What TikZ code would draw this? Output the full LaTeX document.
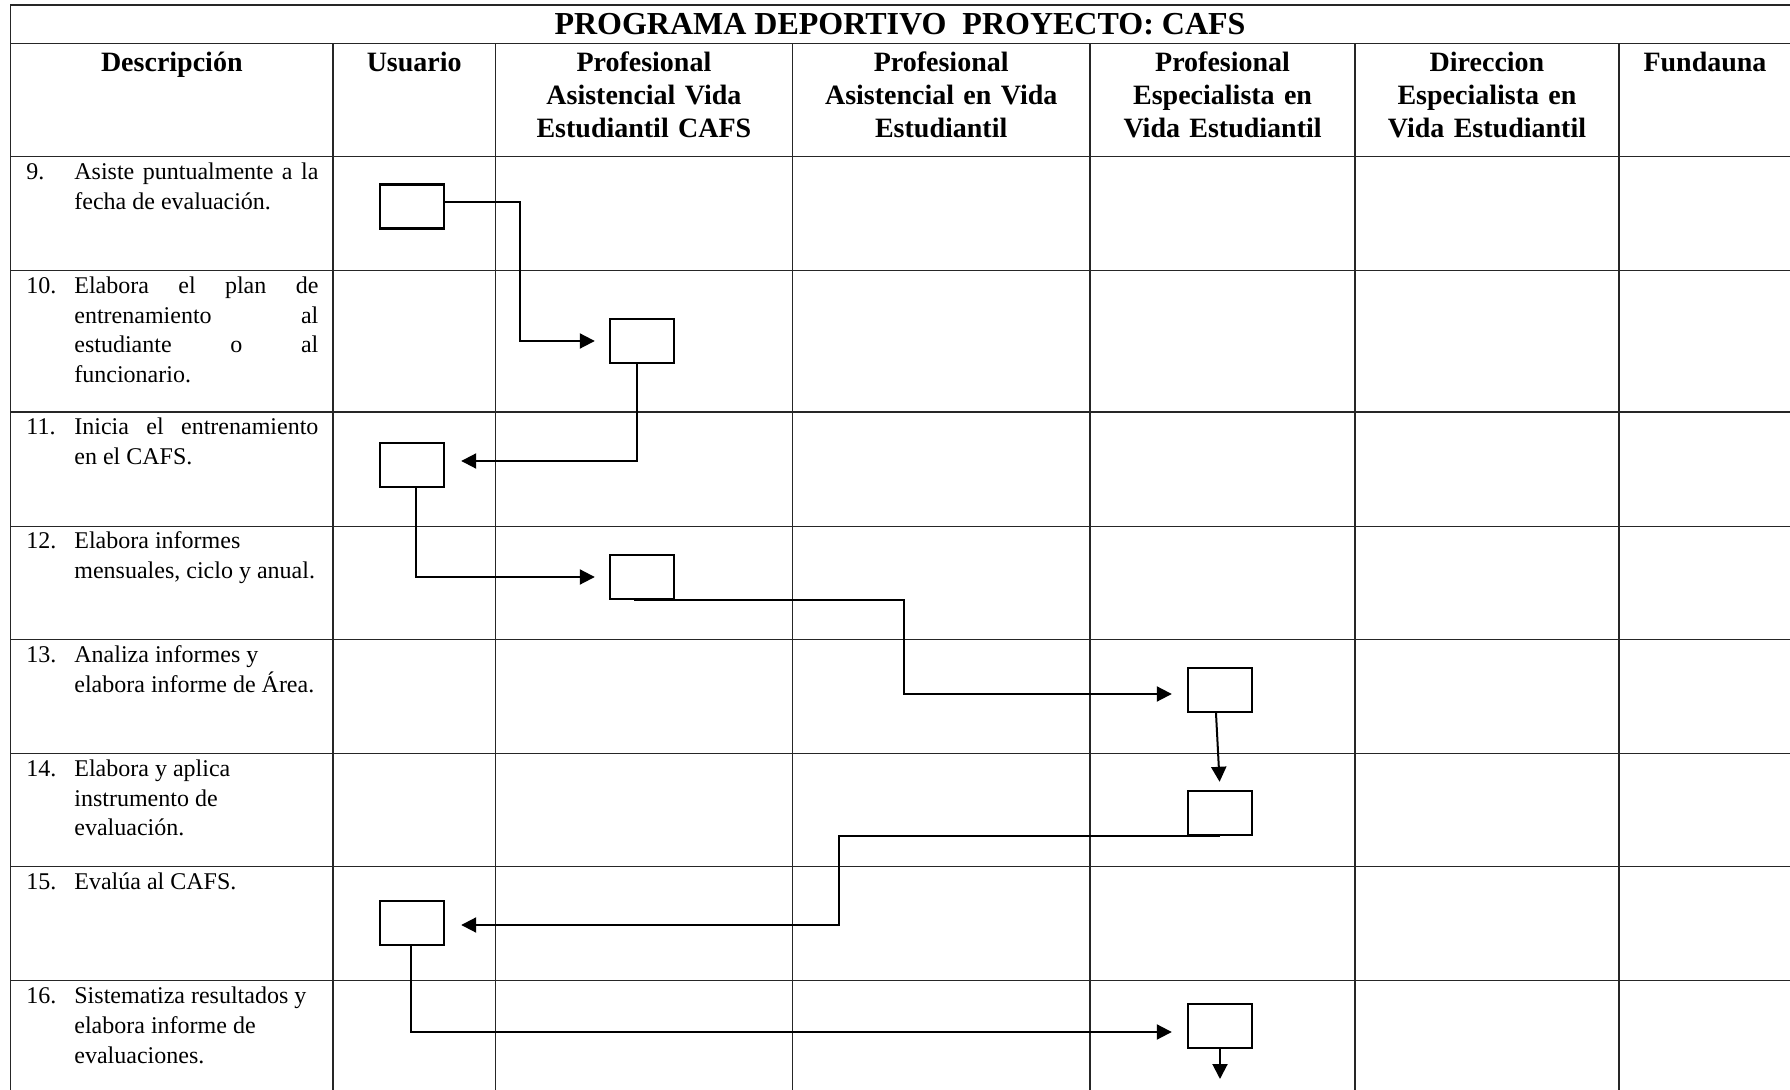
\documentclass[tikz,border=0pt]{standalone}
\usepackage{fontspec}
\setmainfont{Liberation Serif}
\usetikzlibrary{arrows.meta}

\newlength{\descw}
\setlength{\descw}{122pt}
\newcommand{\jus}[1]{\makebox[\descw][s]{#1}}

\tikzset{
	rejilla/.style={black!85, line width=0.75pt},
	caja/.style={draw, line width=1.2pt, minimum width=32pt, minimum height=22pt, inner sep=0pt},
	flujo/.style={line width=1pt, -{Triangle[length=7.5pt,width=7.5pt]}},
	encab/.style={anchor=base, text width=#1, align=center, inner sep=0pt, font=\fontsize{14}{16.5}\selectfont\bfseries},
	desc/.style={anchor=base west, text width=128pt, align=left, inner sep=0pt, font=\fontsize{12}{14.85}\selectfont},
}

\begin{document}
\begin{tikzpicture}[x=0.5pt, y=-0.5pt]
				\useasboundingbox (0,0) rectangle (1790,1090);
				% tabla
				\draw[rejilla] (10.5,1090) -- (10.5,5) -- (1790,5);
				\foreach \y in {43.4,156.5,270.6,412.1,526.3,639.3,753.5,866.5,980.6} \draw[rejilla] (10.5,\y) -- (1790,\y);
				\foreach \x in {333,495.5,792.3,1090.2,1355.1,1618.8} \draw[rejilla] (\x,43.4) -- (\x,1090);
				\node[anchor=base, inner sep=0pt, font=\fontsize{16}{19}\selectfont\bfseries] (titulo) at (900,35) {PROGRAMA DEPORTIVO\ \ PROYECTO: CAFS};
				% encabezados
				\node[encab=150pt] (h1) at (171.8,72) {Descripción};
				\node[encab=78pt] (h2) at (414.2,72) {Usuario};
				\node[encab=145pt] (h3) at (643.9,72) {Profesional\\Asistencial Vida\\Estudiantil CAFS};
				\node[encab=145pt] (h4) at (941.2,72) {Profesional\\Asistencial en Vida\\Estudiantil};
				\node[encab=130pt] (h5) at (1222.6,72) {Profesional\\Especialista en\\Vida Estudiantil};
				\node[encab=130pt] (h6) at (1487,72) {Direccion\\Especialista en\\Vida Estudiantil};
				\node[encab=85pt] (h7) at (1705,72) {Fundauna};
				% descripciones
				\foreach \n/\y/\t in {
					9/179.5/{\jus{Asiste puntualmente a la}\\fecha de evaluación.},
					10/293.5/{\jus{Elabora el plan de}\\\jus{entrenamiento al}\\\jus{estudiante o al}\\funcionario.},
					11/435/{\jus{Inicia el entrenamiento}\\en el CAFS.},
					12/549/{Elabora informes\\mensuales, ciclo y anual.},
					13/662.5/{Analiza informes y\\elabora informe de Área.},
					14/776.5/{Elabora y aplica\\instrumento de\\evaluación.},
					15/889.5/{Evalúa al CAFS.},
					16/1003.6/{Sistematiza resultados y\\elabora informe de\\evaluaciones.}}
				{
					\node[anchor=base west, inner sep=0pt, font=\fontsize{12}{14.85}\selectfont] (n\n) at (26,\y) {\n.};
					\node[desc] (d\n) at (74,\y) {\spaceskip=0pt\relax\t};
				}
				% actividades
				\node[caja] (b1) at (412,206.5) {};
				\node[caja] (b2) at (642,341) {};
				\node[caja] (b3) at (412,465) {};
				\node[caja] (b4) at (642,577) {};
				\node[caja] (b5) at (1220,690) {};
				\node[caja] (b6) at (1220,813) {};
				\node[caja] (b7) at (412,923) {};
				\node[caja] (b8) at (1220,1026) {};
				\coordinate (fin) at (1220,1079);
				% flujo
				\draw[flujo, shorten >=7pt] ([yshift=2pt]b1.east) -- ++(75,0) |- (b2.west);
				\draw[flujo, shorten >=8pt] ([xshift=-2.5pt]b2.south) |- ([yshift=2pt]b3.east);
				\draw[flujo, shorten >=7pt] ([xshift=2pt]b3.south) |- (b4.west);
				\draw[flujo, shorten >=7.5pt] ([xshift=-4pt]b4.south) -- ++(270,0) |- ([yshift=-2pt]b5.west);
				\draw[flujo, shorten >=4pt] ([xshift=-2pt]b5.south) -- (b6.north);
				\draw[flujo, shorten >=8pt] (b6.south) -- ++(-381,0) |- ([yshift=-1pt]b7.east);
				\draw[flujo, shorten >=7.5pt] ([xshift=-0.5pt]b7.south) |- ([yshift=-3pt]b8.west);
				\draw[flujo] (b8.south) -- (fin);
			\end{tikzpicture}
\end{document}
